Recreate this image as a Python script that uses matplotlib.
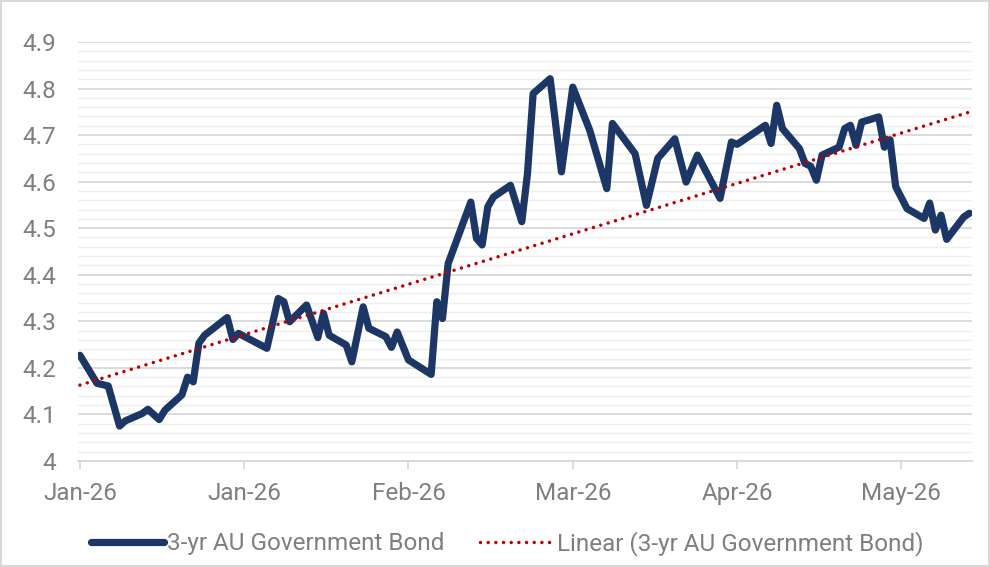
import numpy as np
import pandas as pd
import matplotlib
matplotlib.use("Agg")
import matplotlib.pyplot as plt
import matplotlib.dates as mdates
from matplotlib.ticker import MultipleLocator

plt.rcParams['font.family'] = ['Roboto', 'DejaVu Sans']

# days after 1 Jan 2026 and 3-yr yield (%)
day_offsets = [0, 3, 5, 7, 8, 11, 12, 14, 15, 18, 19, 20, 21, 22, 26, 27, 28, 33, 35, 36,
               37, 40, 42, 43, 44, 47, 48, 50, 51, 54, 55, 56, 58, 62, 63, 64, 65, 69, 70, 71,
               72, 73, 76, 78, 79, 80, 83, 85, 87, 90, 93, 94, 98, 100, 102, 105, 107, 109, 113, 115,
               116, 121, 122, 123, 124, 127, 128, 129, 130, 131, 134, 135, 136, 137, 138, 141, 142, 143, 144, 146,
               149, 150, 151, 152, 153, 156, 157]
yields = [4.227, 4.167, 4.161, 4.075, 4.086, 4.102, 4.111, 4.089, 4.109, 4.142, 4.180, 4.170, 4.253, 4.270, 4.308, 4.261, 4.274, 4.242, 4.349, 4.342,
          4.299, 4.335, 4.265, 4.317, 4.270, 4.249, 4.213, 4.331, 4.285, 4.267, 4.244, 4.277, 4.217, 4.186, 4.342, 4.306, 4.424, 4.556, 4.478, 4.464,
          4.546, 4.567, 4.592, 4.514, 4.617, 4.789, 4.821, 4.621, 4.803, 4.710, 4.585, 4.725, 4.660, 4.549, 4.650, 4.692, 4.599, 4.657, 4.564, 4.685,
          4.680, 4.721, 4.682, 4.764, 4.714, 4.671, 4.639, 4.633, 4.603, 4.657, 4.674, 4.714, 4.721, 4.678, 4.728, 4.739, 4.674, 4.690, 4.589, 4.542,
          4.521, 4.554, 4.496, 4.528, 4.476, 4.524, 4.532]

start = pd.Timestamp('2026-01-01')
dates = start + pd.to_timedelta(day_offsets, unit='D')
tick_dates = pd.date_range(start, periods=6, freq='29D')

# linear trend line, as in the Excel chart
coef = np.polyfit(day_offsets, yields, 1)
trend = np.polyval(coef, day_offsets)

navy = '#1c3766'
red = '#c00000'
grey_text = '#7f7f7f'
fs = 17.5

fig = plt.figure(figsize=(9.9, 5.67), dpi=100, edgecolor='#d9d9d9', linewidth=1.5)
ax = fig.add_axes([0.079, 0.187, 0.903, 0.739])

ax.plot(dates, yields, color=navy, lw=5.2, solid_joinstyle='round', solid_capstyle='round',
        label='3-yr AU Government Bond', zorder=3)
ax.plot(dates, trend, color=red, lw=2.5, linestyle=(0, (0.01, 2.2)), dash_capstyle='round',
        label='Linear (3-yr AU Government Bond)', zorder=4)

ax.set_ylim(4, 4.9)
ax.yaxis.set_minor_locator(MultipleLocator(0.02))
ax.set_yticks(np.arange(4, 4.91, 0.1))
ax.set_yticklabels(['4'] + [f'{v:.1f}' for v in np.arange(4.1, 4.91, 0.1)])
ax.set_xlim(start - pd.Timedelta(days=0.3), start + pd.Timedelta(days=157.5))
ax.set_xticks(tick_dates)
ax.xaxis.set_major_formatter(mdates.DateFormatter('%b-%y'))

ax.grid(axis='y', which='major', color='#d9d9d9', lw=1.3, zorder=0)
ax.grid(axis='y', which='minor', color='#efefef', lw=1.0, zorder=0)
ax.set_axisbelow(True)

for s in ['top', 'right', 'left']:
    ax.spines[s].set_visible(False)
ax.spines['bottom'].set_color('#d9d9d9')
ax.spines['bottom'].set_linewidth(1.3)

ax.tick_params(axis='y', which='both', length=0, pad=16, labelsize=fs, labelcolor=grey_text)
ax.tick_params(axis='x', which='major', length=6, width=1.3, color='#d9d9d9', direction='out',
               pad=9, labelsize=fs, labelcolor=grey_text)

leg = fig.legend(loc='center', bbox_to_anchor=(0.512, 0.042), ncol=2, frameon=False,
                 handlelength=3.0, handletextpad=0.15, columnspacing=1.45, fontsize=fs)
for t in leg.get_texts():
    t.set_color(grey_text)

fig.savefig('out.png', dpi=100)
